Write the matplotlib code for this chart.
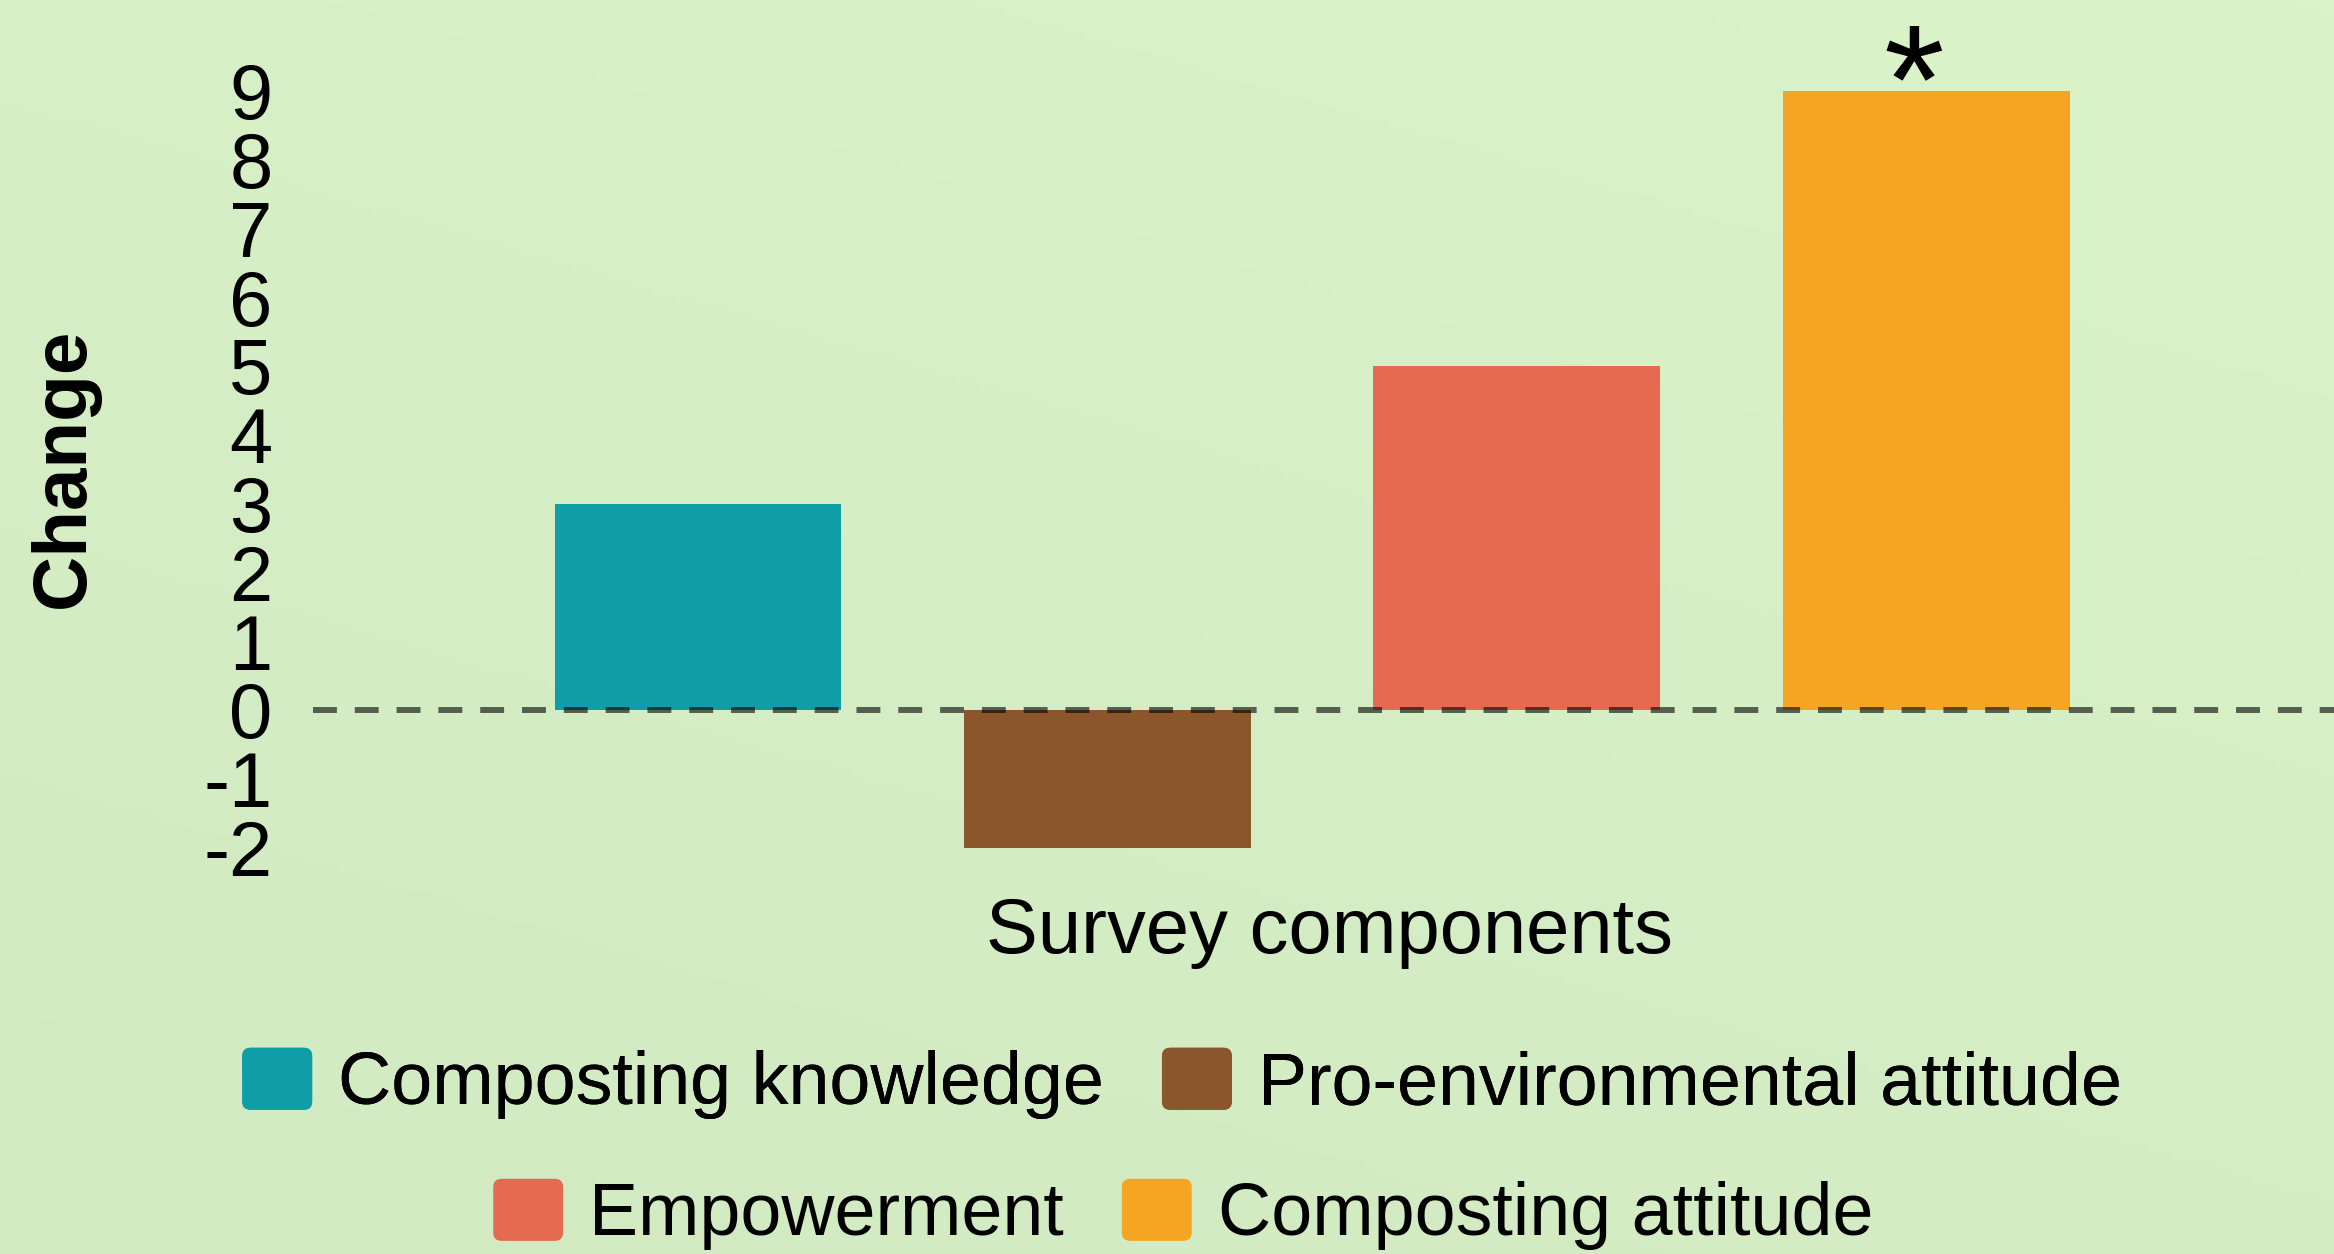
import matplotlib
matplotlib.use("Agg")
import matplotlib.pyplot as plt
import numpy as np
from matplotlib.patches import FancyBboxPatch, Patch
from matplotlib.legend_handler import HandlerPatch
from matplotlib.colors import LinearSegmentedColormap

# ---- data ----
categories = ["Composting knowledge", "Pro-environmental attitude",
              "Empowerment", "Composting attitude"]
values = [3, -2, 5, 9]
colors = ["#0F9EA8", "#8B562C", "#E66A50", "#F4A623"]
significant = [False, False, False, True]
y_ticks = [-2, -1, 0, 1, 2, 3, 4, 5, 6, 7, 8, 9]
y_tick_labels = ["-2", "-1", "0", "1", "2", "3", "4", "5", "6", "7", "8", "9"]

plt.rcParams['font.family'] = ['Liberation Sans', 'DejaVu Sans']

W, H = 2334, 1254
fig = plt.figure(figsize=(W / 100, H / 100), dpi=100)

# background gradient
bg = fig.add_axes([0, 0, 1, 1], zorder=-10)
cmap = LinearSegmentedColormap.from_list("bgc", ["#d1eac1", "#d5eec5", "#daf3c9"])
gx, gy = np.meshgrid(np.linspace(0, 1, 200), np.linspace(0, 1, 200))
bg.imshow(0.35 * gx + 0.65 * gy, cmap=cmap, origin="lower", aspect="auto",
          extent=[0, 1, 0, 1])
bg.axis("off")

left_px, right_px = 313, 2334
top_px, bottom_px = 0, 871.6
ax = fig.add_axes([left_px / W, 1 - bottom_px / H, (right_px - left_px) / W,
                   (bottom_px - top_px) / H])
ax.patch.set_alpha(0)

x = np.arange(len(categories))
ax.bar(x, values, width=0.7, color=colors, zorder=2)
ax.axhline(0, color="black", alpha=0.6, lw=4.3, dashes=(4, 3), zorder=3)

for xi, v, s in zip(x, values, significant):
    if s:
        ax.text(xi - 0.03, v - 0.6, "*", ha="center", va="baseline",
                fontsize=112, color="black", zorder=4)

ax.set_xlim(-0.94, 3.996)
ax.set_ylim(-2.35, 10.32)
ax.set_xticks([])
ax.set_yticks(y_ticks)
ax.set_yticklabels(y_tick_labels)
ax.tick_params(axis="y", length=0, pad=29, labelsize=56)
for sp in ax.spines.values():
    sp.set_visible(False)

ax.set_ylabel("Change", fontsize=55, fontweight="bold")
ax.yaxis.set_label_coords(-0.1055, 0.463)
ax.set_xlabel("Survey components", fontsize=56)
ax.xaxis.set_label_coords(0.503, -0.028)


def rounded(legend, orig_handle, xdescent, ydescent, width, height, fontsize):
    return FancyBboxPatch((-xdescent, -ydescent), width, height,
                          boxstyle="round,pad=0,rounding_size=6",
                          mutation_aspect=1)


handles = [Patch(facecolor=c, edgecolor="none") for c in colors]
hm = {Patch: HandlerPatch(patch_func=rounded)}
kw = dict(loc="center", ncol=2, frameon=False, fontsize=53, handlelength=0.95,
          handleheight=0.92, handletextpad=0.35, columnspacing=0.79,
          borderpad=0, borderaxespad=0, handler_map=hm)
leg1 = fig.legend(handles[:2], categories[:2], bbox_to_anchor=(0.5064, 0.136), **kw)
fig.add_artist(leg1)
leg2 = fig.legend(handles[2:], categories[2:], bbox_to_anchor=(0.5069, 0.0315), **kw)

fig.savefig("out.png", dpi=100)
